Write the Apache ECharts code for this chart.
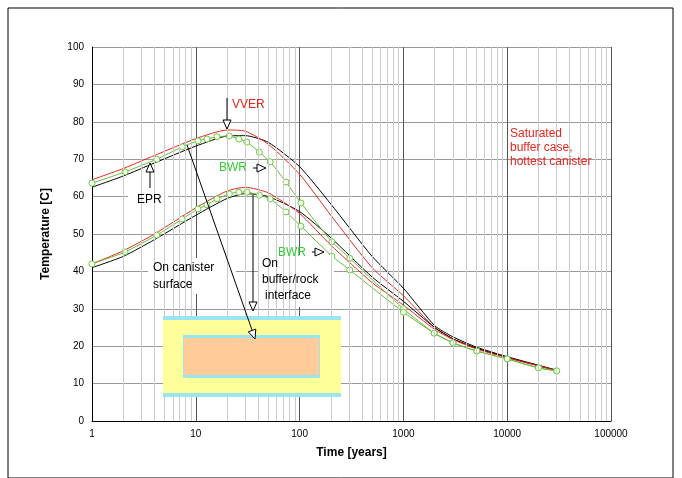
<!DOCTYPE html>
<html><head><meta charset="utf-8">
<script src="https://cdn.jsdelivr.net/npm/echarts@6/dist/echarts.min.js"></script>
<style>html,body{margin:0;padding:0;background:#fff}#c{width:682px;height:478px}</style>
</head><body><div id="c"></div>
<script>
// times [years] and temperatures [C]
const bwrTimes = [1, 2.08, 4.2, 7.4, 10.5, 12.8, 16, 21, 26, 31, 41, 52, 74, 103, 205, 304, 1000, 1980, 3000, 5100, 10000, 20000, 30000];
const bwrCanister = [63.6, 66.6, 70, 73.3, 74.9, 75.4, 76, 76.2, 75.4, 74.6, 71.9, 69.3, 63.9, 58.3, 47.9, 43.5, 30, 23.5, 20.9, 18.7, 16.6, 14.2, 13.4];
const bwrBuffer = [42, 45.2, 49.7, 54, 56.7, 57.8, 59.4, 60.7, 61.2, 61.2, 60.4, 59.4, 55.9, 52.1, 44.1, 40.4, 29.1, 23.5, 20.9, 18.7, 16.6, 14.2, 13.4];

const lineTimes = [1, 2, 4, 10, 20, 30, 50, 100, 200, 500, 1000, 2000, 3000, 5000, 10000, 30000];
const vverCanister = [64.5, 67.5, 71, 75.5, 77.8, 77.5, 74, 66, 55, 41, 33.5, 25, 22, 19.5, 17, 13.5];
const eprCanister = [62.5, 65.5, 69, 73.5, 76.2, 76.3, 74.5, 68, 58, 44, 35.5, 25.5, 22.5, 19.8, 17.2, 13.6];
const vverBuffer = [42, 45.5, 50, 57, 61.5, 62.5, 61, 55.5, 47, 37, 31, 24.5, 21.8, 19.3, 16.9, 13.5];
const eprBuffer = [41, 44, 48.5, 55, 59.5, 60.8, 60, 56, 49, 38.5, 32, 25, 22, 19.5, 17, 13.5];

const minorX = [];
for (let d = 1; d <= 10000; d *= 10) for (let k = 2; k <= 9; k++) minorX.push(k * d);

const pair = (xs, ys) => xs.map((x, i) => [x, ys[i]]);
const chart = echarts.init(document.getElementById('c'));
const font = 'Liberation Sans, Arial, sans-serif';
const txt = (x, y, s, c) => ({type: 'text', left: x, top: y, z: 20, style: {text: s, fill: c || '#000', font: '12px ' + font}});
const seg = (x1, y1, x2, y2) => ({type: 'line', z: 20, shape: {x1, y1, x2, y2}, style: {stroke: '#000', lineWidth: 1}});
// open-triangle arrow head with tip at (x,y) pointing along (dx,dy)
function head(x, y, dx, dy) {
  const l = Math.hypot(dx, dy), ux = dx / l, uy = dy / l;
  const bx = x - ux * 9, by = y - uy * 9;
  return {type: 'polygon', z: 20, shape: {points: [[x, y], [bx - uy * 4, by + ux * 4], [bx + uy * 4, by - ux * 4]]},
    style: {fill: '#fff', stroke: '#000'}};
}

function line(data, color, sym) {
  return {type: 'line', data, smooth: 0.2, showSymbol: sym, symbol: 'circle', symbolSize: 6,
    itemStyle: {color: '#fff', borderColor: '#66cc33', borderWidth: 1},
    lineStyle: {color, width: 1}, z: sym ? 4 : 3, silent: true, animation: false};
}

chart.setOption({
  animation: false,
  grid: {left: 92, right: 71, top: 47, bottom: 57},
  xAxis: {type: 'log', logBase: 10, min: 1, max: 100000, name: 'Time [years]', nameLocation: 'middle', nameGap: 26,
    nameTextStyle: {fontWeight: 'bold', fontSize: 12, fontFamily: font},
    axisLine: {lineStyle: {color: '#000'}}, axisTick: {show: false},
    axisLabel: {color: '#000', fontSize: 10, fontFamily: font, formatter: v => String(Math.round(v))},
    splitLine: {lineStyle: {color: '#555'}}},
  yAxis: {type: 'value', min: 0, max: 100, interval: 10, name: 'Temperature [C]', nameLocation: 'middle', nameGap: 40,
    nameTextStyle: {fontWeight: 'bold', fontSize: 12, fontFamily: font},
    axisLine: {show: true, lineStyle: {color: '#000'}}, axisTick: {show: false},
    axisLabel: {color: '#000', fontSize: 10, fontFamily: font},
    splitLine: {lineStyle: {color: '#999'}}},
  series: [
    {type: 'line', data: [], markLine: {symbol: 'none', silent: true, label: {show: false},
      lineStyle: {color: '#ccc', type: 'solid', width: 1}, data: minorX.map(v => ({xAxis: v}))}},
    line(pair(lineTimes, eprCanister), '#000', false),
    line(pair(lineTimes, vverCanister), '#e8251e', false),
    line(pair(lineTimes, eprBuffer), '#000', false),
    line(pair(lineTimes, vverBuffer), '#e8251e', false),
    line(pair(bwrTimes, bwrCanister), '#66bb33', true),
    line(pair(bwrTimes, bwrBuffer), '#66bb33', true)
  ],
  graphic: [
    {type: 'rect', shape: {x: 8, y: 8, width: 665, height: 470}, style: {fill: 'none', stroke: '#000'}, silent: true},
    {type: 'rect', shape: {x: 163, y: 316, width: 178, height: 81}, style: {fill: '#ffff99'}, z: 10},
    {type: 'rect', shape: {x: 163, y: 316, width: 178, height: 4}, style: {fill: '#99e6f2'}, z: 11},
    {type: 'rect', shape: {x: 163, y: 393, width: 178, height: 4}, style: {fill: '#99e6f2'}, z: 11},
    {type: 'rect', shape: {x: 183, y: 335, width: 137, height: 43}, style: {fill: '#99e6f2'}, z: 11},
    {type: 'rect', shape: {x: 184, y: 338, width: 135, height: 37}, style: {fill: '#ffcc99'}, z: 12},
    txt(232, 99, 'VVER', '#e8251e'), seg(227, 98, 227, 120), head(227, 129, 0, 1),
    txt(219, 162, 'BWR', '#33cc33'), seg(253, 168, 258, 168), head(266, 168, 1, 0),
    {type: 'rect', shape: {x: 128, y: 190, width: 40, height: 22}, style: {fill: '#fff'}, z: 5},
    txt(137, 194, 'EPR'), seg(150, 188, 150, 172), head(150, 163, 0, -1),
    txt(278, 247, 'BWR', '#33cc33'), seg(312, 252, 316, 252), head(324, 252, 1, 0),
    {type: 'rect', shape: {x: 148, y: 258, width: 88, height: 36}, style: {fill: '#fff'}, z: 5},
    txt(153, 262, 'On canister'), txt(153, 279, 'surface'),
    {type: 'rect', shape: {x: 258, y: 255, width: 76, height: 52}, style: {fill: '#fff'}, z: 5},
    txt(262, 258, 'On'), txt(262, 274, 'buffer/rock'), txt(265, 290, 'interface'),
    seg(187, 145, 252, 330), head(255, 339, 68, 194),
    seg(253, 195, 253, 302), head(253, 311, 0, 1),
    txt(510, 128, 'Saturated', '#e8251e'), txt(510, 142, 'buffer case,', '#e8251e'), txt(510, 156, 'hottest canister', '#e8251e')
  ]
});
</script></body></html>
